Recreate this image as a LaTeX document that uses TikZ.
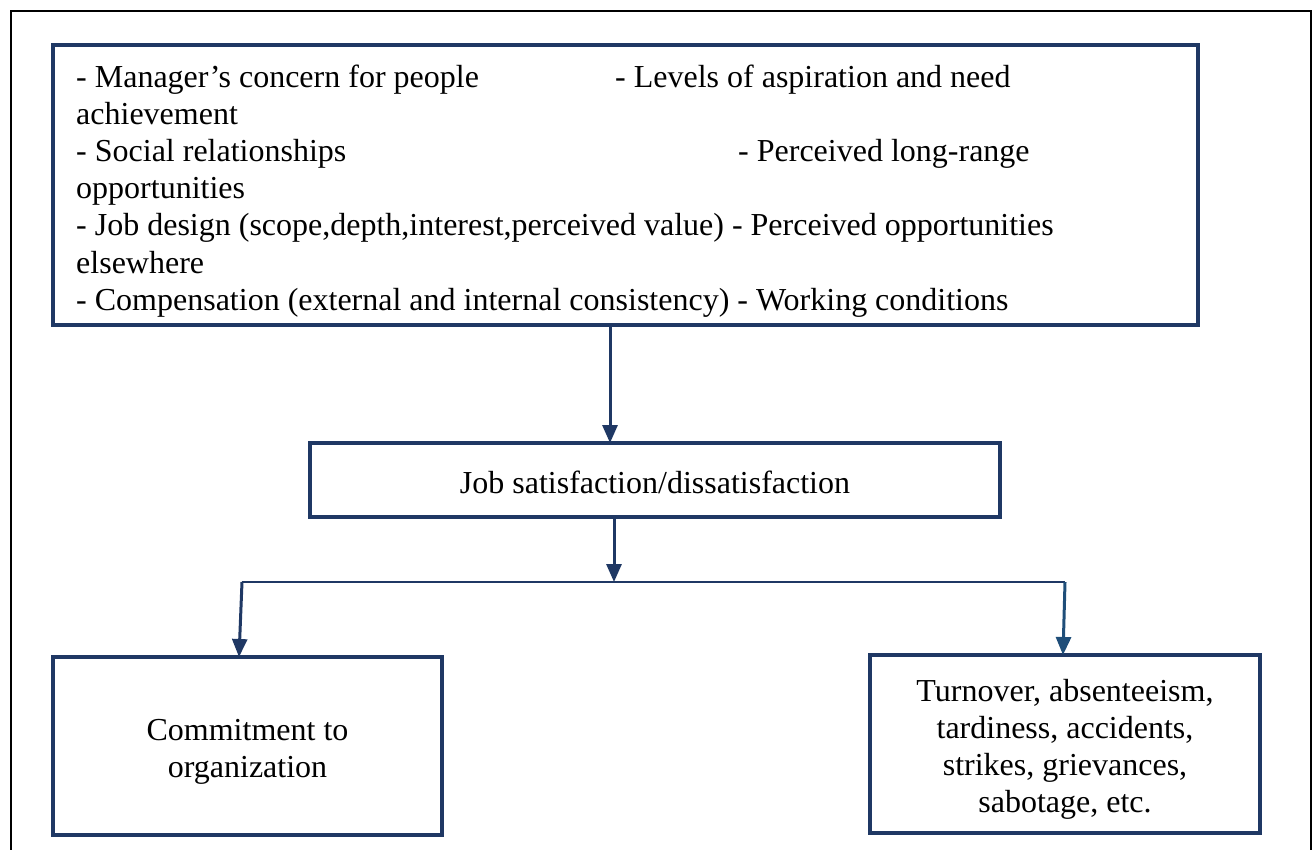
\documentclass[tikz,border=0pt]{standalone}
\usepackage{fontspec}
\setmainfont{Liberation Serif}
\usetikzlibrary{arrows.meta}
\definecolor{navy}{HTML}{1F3864}
\definecolor{steel}{HTML}{1F4E79}
\begin{document}
\begin{tikzpicture}[x=1pt,y=-1pt,
  box/.style={draw=navy,line width=4pt,rectangle,inner sep=0pt},
  txt/.style={font=\fontsize{32}{37}\selectfont,inner sep=0pt},
  item/.style={txt,anchor=base west},
  arr/.style={draw=navy,line width=3pt,-{Triangle[length=18pt,width=15pt]}},
  thin/.style={draw=navy,line width=1.5pt}]
\useasboundingbox (0,0) rectangle (1314,850);
% outer frame (open at the bottom edge)
\draw[line width=2.5pt,black] (11,860) -- (11,11) -- (1311,11) -- (1311,860);

% factor box
\node[box,minimum width=1145pt,minimum height=280pt] (top) at (625.5,185) {};
\node[item] (t1) at (76,88) {- Manager’s concern for people};
\node[item] (t1b) at (615,88) {- Levels of aspiration and need};
\node[item] (t2) at (76,125) {achievement};
\node[item] (t3) at (76,162) {- Social relationships};
\node[item] (t3b) at (738,162) {- Perceived long-range};
\node[item] (t4) at (76,199) {opportunities};
\node[item] (t5) at (76,236) {- Job design (scope,depth,interest,perceived value) - Perceived opportunities};
\node[item] (t6) at (76,273) {elsewhere};
\node[item] (t7) at (76,310) {- Compensation (external and internal consistency) - Working conditions};

% outcome boxes
\node[box,minimum width=690pt,minimum height=74pt] (mid) at (655,480) {};
\node[txt,anchor=base] (midtext) at (655,493) {Job satisfaction/dissatisfaction};
\node[box,minimum width=389pt,minimum height=178pt] (left) at (247.5,746) {};
\node[txt,align=center] (lefttext) at (247.5,752) {Commitment to\\organization};
\node[box,minimum width=390pt,minimum height=178pt] (right) at (1065,744) {};
\node[txt,align=center] (righttext) at (1065,749) {Turnover, absenteeism,\\tardiness, accidents,\\strikes, grievances,\\sabotage, etc.};

% connectors
\coordinate (split) at (614,582);
\coordinate (L) at (242,582);
\coordinate (R) at (1065,582);
\draw[arr] ([xshift=-15.5pt]top.south) -- ([xshift=-45pt,yshift=-2pt]mid.north);
\draw[arr] ([xshift=-41pt]mid.south) -- (split);
\draw[thin] (L) -- (R);
\draw[arr] (L) -- ([xshift=-8.5pt,yshift=-2pt]left.north);
\draw[arr,draw=steel] (R) -- ([xshift=-2pt,yshift=-2pt]right.north);
\end{tikzpicture}
\end{document}
